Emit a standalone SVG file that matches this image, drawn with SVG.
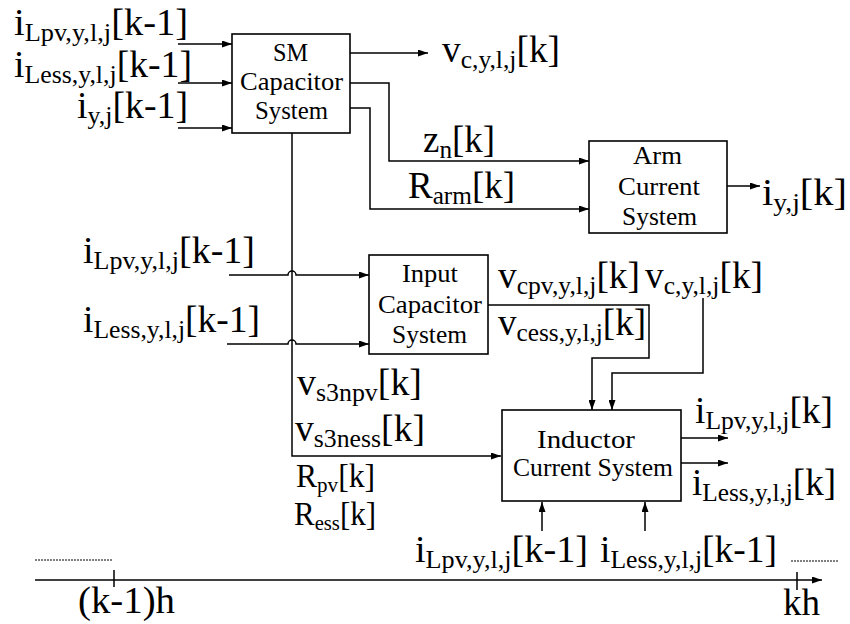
<svg xmlns="http://www.w3.org/2000/svg" width="850" height="624" viewBox="0 0 850 624" font-family="Liberation Serif, Times New Roman, serif">
<style>
.t{font-size:38px;fill:#000}
.s{font-size:26px}
.m{font-size:33px}
.ms{font-size:22px}
.b{font-size:25px;fill:#000}
.ln{fill:none;stroke:#000;stroke-width:1.5}
.box{fill:#fff;stroke:#000;stroke-width:1.6}
.dot{fill:none;stroke:#000;stroke-width:1;stroke-dasharray:2 1}
</style>
<defs>
<marker id="ah" viewBox="0 0 10 7" refX="10" refY="3.5" markerWidth="10" markerHeight="7" markerUnits="userSpaceOnUse" orient="auto">
<path d="M0,0 L10,3.5 L0,7 z" fill="#000"/>
</marker>
</defs>
<rect width="850" height="624" fill="#fff"/>
<g id="connectors">
<path class="ln" marker-end="url(#ah)" d="M178 44 H232"/>
<path class="ln" marker-end="url(#ah)" d="M178 83 H232"/>
<path class="ln" marker-end="url(#ah)" d="M178 128 H232"/>
<path class="ln" marker-end="url(#ah)" d="M350 53 H428"/>
<path class="ln" marker-end="url(#ah)" d="M350 83 H389 V161 H589"/>
<path class="ln" marker-end="url(#ah)" d="M350 108 H370 V209 H589"/>
<path class="ln" marker-end="url(#ah)" d="M727 186 H760"/>
<path class="ln" marker-end="url(#ah)" d="M292 133 V456 H501"/>
<path class="ln" marker-end="url(#ah)" d="M229 275 H288 a4 4 0 0 1 8 0 H369"/>
<path class="ln" marker-end="url(#ah)" d="M227 344 H288 a4 4 0 0 1 8 0 H369"/>
<path class="ln" marker-end="url(#ah)" d="M488 305 H649 V358 H592 V410"/>
<path class="ln" marker-end="url(#ah)" d="M703 298 V373 H612 V410"/>
<path class="ln" marker-end="url(#ah)" d="M681 438 H728"/>
<path class="ln" marker-end="url(#ah)" d="M681 463 H728"/>
<path class="ln" marker-end="url(#ah)" d="M542 531 V502"/>
<path class="ln" marker-end="url(#ah)" d="M645 531 V502"/>
<path class="ln" marker-end="url(#ah)" d="M35 580 H822"/>
<path class="ln" d="M114 570 V587 M797 572 V590"/>
<path class="dot" d="M35 560 H112 M791 561 H838"/>
</g>
<g id="sm-capacitor">
<rect class="box" x="232" y="34" width="118" height="99"/>
<text class="b" x="273" y="61" textLength="35" lengthAdjust="spacingAndGlyphs">SM</text>
<text class="b" x="240" y="90" textLength="103" lengthAdjust="spacingAndGlyphs">Capacitor</text>
<text class="b" x="255" y="119" textLength="73" lengthAdjust="spacingAndGlyphs">System</text>
</g>
<g id="arm-current">
<rect class="box" x="589" y="141" width="138" height="92"/>
<text class="b" x="633" y="164" textLength="49" lengthAdjust="spacingAndGlyphs">Arm</text>
<text class="b" x="618" y="195" textLength="82" lengthAdjust="spacingAndGlyphs">Current</text>
<text class="b" x="622" y="225" textLength="75" lengthAdjust="spacingAndGlyphs">System</text>
</g>
<g id="input-capacitor">
<rect class="box" x="369" y="255" width="119" height="99"/>
<text class="b" x="402" y="282" textLength="56" lengthAdjust="spacingAndGlyphs">Input</text>
<text class="b" x="378" y="313" textLength="104" lengthAdjust="spacingAndGlyphs">Capacitor</text>
<text class="b" x="392" y="343" textLength="75" lengthAdjust="spacingAndGlyphs">System</text>
</g>
<g id="inductor-current">
<rect class="box" x="502" y="410" width="179" height="91"/>
<text class="b" x="537" y="448" textLength="98" lengthAdjust="spacingAndGlyphs">Inductor</text>
<text class="b" x="513" y="476" textLength="160" lengthAdjust="spacingAndGlyphs">Current System</text>
</g>
<g id="labels">
<text class="t" x="14" y="35" textLength="174" lengthAdjust="spacingAndGlyphs">i<tspan class="s" dy="6">Lpv,y,l,j</tspan><tspan dy="-6">[k-1]</tspan></text>
<text class="t" x="14" y="77" textLength="178" lengthAdjust="spacingAndGlyphs">i<tspan class="s" dy="6">Less,y,l,j</tspan><tspan dy="-6">[k-1]</tspan></text>
<text class="t" x="77" y="118" textLength="111" lengthAdjust="spacingAndGlyphs">i<tspan class="s" dy="6">y,j</tspan><tspan dy="-6">[k-1]</tspan></text>
<text class="t" x="442" y="62" textLength="118" lengthAdjust="spacingAndGlyphs">v<tspan class="s" dy="6">c,y,l,j</tspan><tspan dy="-6">[k]</tspan></text>
<text class="t" x="423" y="152" textLength="72" lengthAdjust="spacingAndGlyphs">z<tspan class="s" dy="6">n</tspan><tspan dy="-6">[k]</tspan></text>
<text class="t" x="408" y="198" textLength="107" lengthAdjust="spacingAndGlyphs">R<tspan class="s" dy="6">arm</tspan><tspan dy="-6">[k]</tspan></text>
<text class="t" x="762" y="205" textLength="85" lengthAdjust="spacingAndGlyphs">i<tspan class="s" dy="6">y,j</tspan><tspan dy="-6">[k]</tspan></text>
<text class="t" x="83" y="263" textLength="172" lengthAdjust="spacingAndGlyphs">i<tspan class="s" dy="6">Lpv,y,l,j</tspan><tspan dy="-6">[k-1]</tspan></text>
<text class="t" x="83" y="332" textLength="177" lengthAdjust="spacingAndGlyphs">i<tspan class="s" dy="6">Less,y,l,j</tspan><tspan dy="-6">[k-1]</tspan></text>
<text class="t" x="498" y="288" textLength="142" lengthAdjust="spacingAndGlyphs">v<tspan class="s" dy="6">cpv,y,l,j</tspan><tspan dy="-6">[k]</tspan></text>
<text class="t" x="645" y="288" textLength="118" lengthAdjust="spacingAndGlyphs">v<tspan class="s" dy="6">c,y,l,j</tspan><tspan dy="-6">[k]</tspan></text>
<text class="t" x="498" y="335" textLength="148" lengthAdjust="spacingAndGlyphs">v<tspan class="s" dy="6">cess,y,l,j</tspan><tspan dy="-6">[k]</tspan></text>
<text class="t" x="297" y="395" textLength="125" lengthAdjust="spacingAndGlyphs">v<tspan class="s" dy="6">s3npv</tspan><tspan dy="-6">[k]</tspan></text>
<text class="t" x="295" y="441" textLength="130" lengthAdjust="spacingAndGlyphs">v<tspan class="s" dy="6">s3ness</tspan><tspan dy="-6">[k]</tspan></text>
<text class="t m" x="296" y="487" textLength="79" lengthAdjust="spacingAndGlyphs">R<tspan class="ms" dy="5">pv</tspan><tspan dy="-5">[k]</tspan></text>
<text class="t m" x="294" y="525" textLength="82" lengthAdjust="spacingAndGlyphs">R<tspan class="ms" dy="5">ess</tspan><tspan dy="-5">[k]</tspan></text>
<text class="t" x="695" y="423" textLength="138" lengthAdjust="spacingAndGlyphs">i<tspan class="s" dy="6">Lpv,y,l,j</tspan><tspan dy="-6">[k]</tspan></text>
<text class="t" x="692" y="495" textLength="144" lengthAdjust="spacingAndGlyphs">i<tspan class="s" dy="6">Less,y,l,j</tspan><tspan dy="-6">[k]</tspan></text>
<text class="t" x="415" y="562" textLength="173" lengthAdjust="spacingAndGlyphs">i<tspan class="s" dy="6">Lpv,y,l,j</tspan><tspan dy="-6">[k-1]</tspan></text>
<text class="t" x="600" y="562" textLength="177" lengthAdjust="spacingAndGlyphs">i<tspan class="s" dy="6">Less,y,l,j</tspan><tspan dy="-6">[k-1]</tspan></text>
<text class="t" x="78" y="613" textLength="97" lengthAdjust="spacingAndGlyphs">(k-1)h</text>
<text class="t" x="783" y="615" textLength="37" lengthAdjust="spacingAndGlyphs">kh</text>
</g>
</svg>
